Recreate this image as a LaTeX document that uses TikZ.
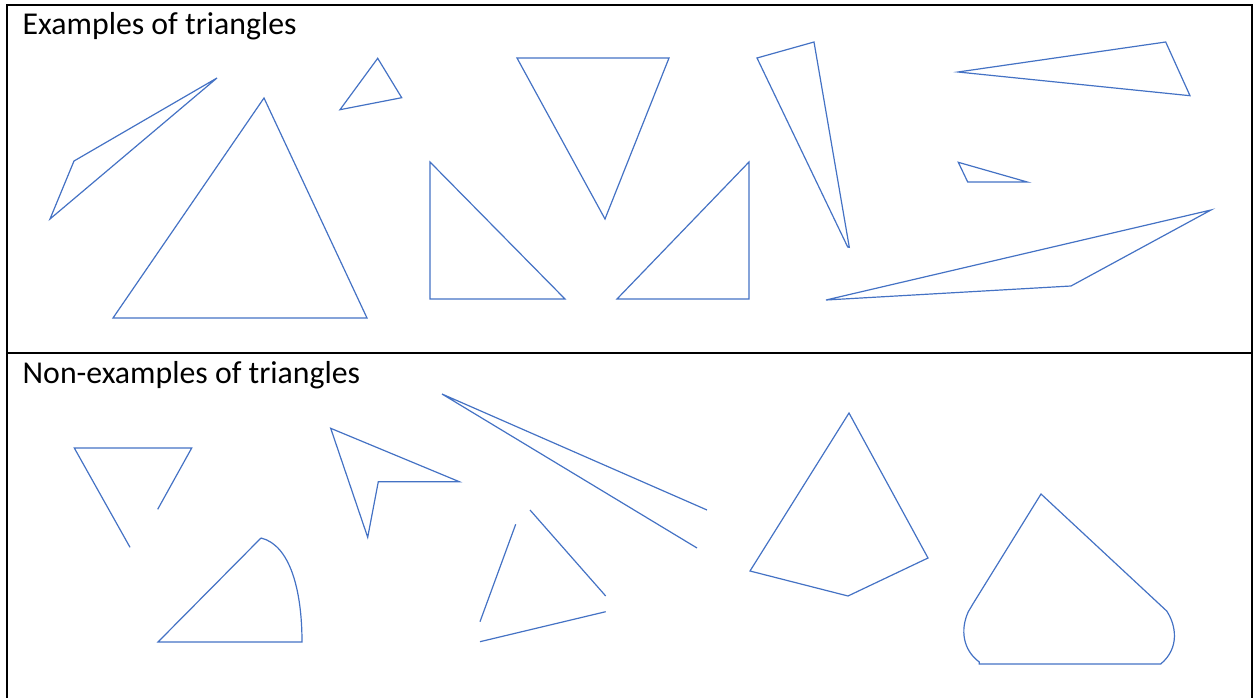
\documentclass[tikz,border=0pt]{standalone}
\usepackage{fontspec}
\setmainfont{Carlito}
\begin{document}
\begin{tikzpicture}[x=1pt,y=-1pt,
  frame/.style={line width=2pt,black},
  shp/.style={draw=shapeblue,line width=1.2pt,line join=miter},
  title/.style={anchor=base west,inner sep=0pt,font=\fontsize{31.8}{38}\selectfont}]
\definecolor{shapeblue}{HTML}{4472C4}
\useasboundingbox (0,0) rectangle (1254,698);
\begin{scope}
\clip (0,0) rectangle (1254,698);
\draw[frame] (7,710) -- (7,5) -- (1252,5) -- (1252,710);
\draw[frame] (7,352.5) -- (1252,352.5);
\end{scope}
\node[title] (ex) at (22.5,35) {Examples of triangles};
\node[title] (nonex) at (22.5,383.5) {Non-examples of triangles};
% examples
\draw[shp] (217,78) -- (74,161) -- (50,219) -- cycle;
\draw[shp] (264,98) -- (113,318) -- (367,318) -- cycle;
\draw[shp] (377.7,58.3) -- (340,109.7) -- (401.7,97.7) -- cycle;
\draw[shp] (517,58) -- (669,58) -- (605,219) -- cycle;
\draw[shp] (430,162) -- (430,299) -- (565,299) -- cycle;
\draw[shp] (749,162) -- (749,299) -- (617,299) -- cycle;
\draw[shp] (757,58) -- (814,42) -- (849.3,247.3) -- (847.7,247) -- cycle;
\draw[shp] (958,72) -- (1165.7,42) -- (1190,95.7) -- cycle;
\draw[shp] (958.3,162.3) -- (967.7,182) -- (1027.3,182) -- cycle;
\draw[shp] (826,300) -- (1211,210) -- (1071,286) -- cycle;
% non-examples
\draw[shp] (130,547.3) -- (74.3,448) -- (191.7,448) -- (157.7,509.3);
\draw[shp] (330.7,428.3) -- (459.3,481.7) -- (378.3,481.7) -- (367.7,537.3) -- cycle;
\draw[shp] (707,510) -- (442,394) -- (697,548);
\draw[shp] (515.7,524.3) -- (480,621.7);
\draw[shp] (530,510) -- (605.7,596);
\draw[shp] (480,641.7) -- (605.7,611.7);
\draw[shp] (261,538) -- (158,642) -- (302,642) .. controls (302,590) and (290,545) .. (261,538);
\draw[shp] (849,413) -- (750,571) -- (848,596) -- (928,558) -- cycle;
\draw[shp] (1041,494) -- (973.3,603.3) -- (968.3,611.7)
  .. controls (960,630) and (963,650) .. (979.3,662)
  -- (979.3,664) -- (1160.7,664)
  .. controls (1180,648) and (1176,625) .. (1166.7,611) -- cycle;
\end{tikzpicture}
\end{document}
